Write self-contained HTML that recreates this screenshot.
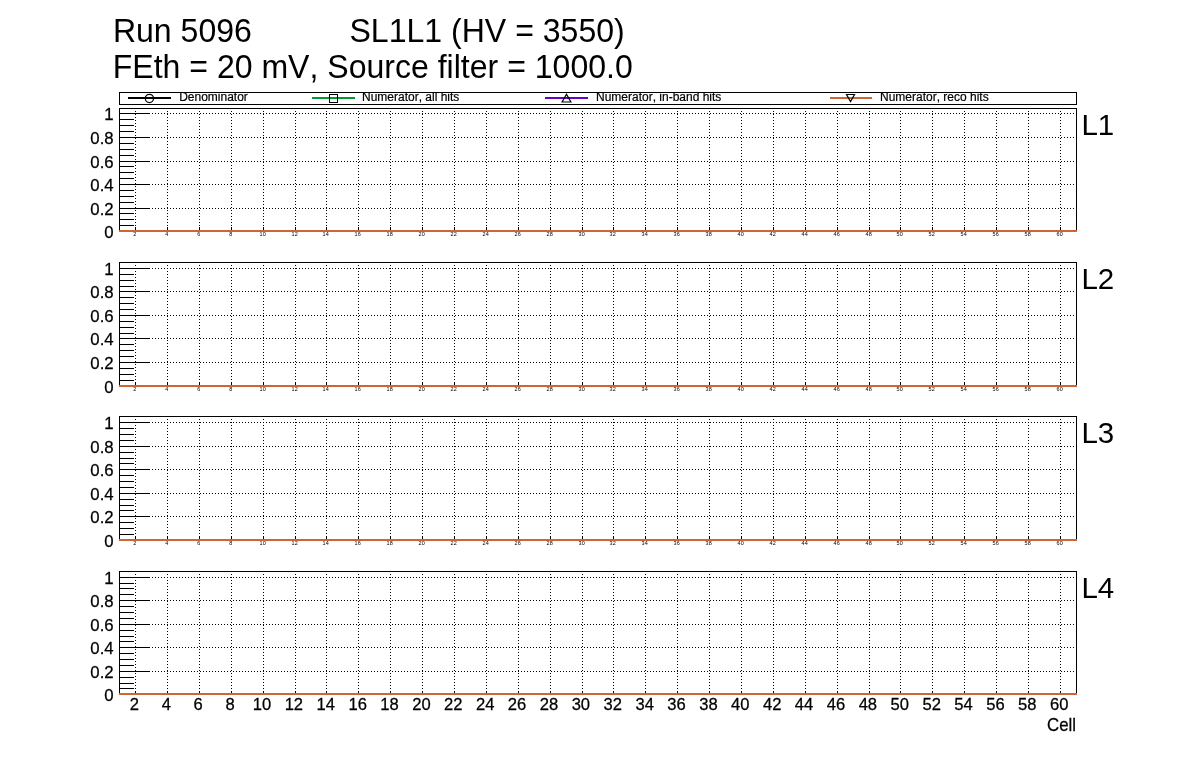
<!DOCTYPE html><html><head><meta charset="utf-8"><title>Run 5096</title><style>
html,body{margin:0;padding:0;background:#fff}body{width:1196px;height:772px;overflow:hidden;position:relative;font-family:"Liberation Sans",sans-serif;color:#000}
svg{position:absolute;left:0;top:0;display:block}
.c{shape-rendering:crispEdges}
text{font-family:"Liberation Sans",sans-serif;fill:#000;font-kerning:none}
.yl{font-size:16.8px;text-anchor:end;stroke:#000;stroke-width:.25px}.xl{font-size:16.6px;text-anchor:middle;stroke:#000;stroke-width:.25px}.ce{font-size:16.8px;text-anchor:end;stroke:#000;stroke-width:.25px}.sx{font-size:5.5px;text-anchor:middle}.lg{font-size:12px;stroke:#000;stroke-width:.2px}.ll{font-size:29.5px}.tt{font-size:32.05px}
</style></head><body>
<svg width="1196" height="772" viewBox="0 0 1196 772">
<rect width="1196" height="772" fill="#fff"/>
<text class="tt" transform="translate(112.90 42.30) scale(1 1.06)">Run 5096</text>
<text class="tt" transform="translate(349.50 42.30) scale(1 1.06)">SL1L1 (HV = 3550)</text>
<text class="tt" transform="translate(112.70 77.90) scale(1 1.06)">FEth = 20 mV, Source filter = 1000.0</text>
<g class="c">
<rect x="119" y="108" width="958" height="1"/>
<rect x="119" y="108" width="1" height="122"/>
<rect x="1076" y="108" width="1" height="122"/>
<line x1="135.5" y1="108" x2="135.5" y2="230" stroke="#000" stroke-dasharray="1 2"/>
<rect x="135" y="227" width="1" height="3"/>
<line x1="167.5" y1="108" x2="167.5" y2="230" stroke="#000" stroke-dasharray="1 2"/>
<rect x="167" y="227" width="1" height="3"/>
<line x1="199.5" y1="108" x2="199.5" y2="230" stroke="#000" stroke-dasharray="1 2"/>
<rect x="199" y="227" width="1" height="3"/>
<line x1="231.5" y1="108" x2="231.5" y2="230" stroke="#000" stroke-dasharray="1 2"/>
<rect x="231" y="227" width="1" height="3"/>
<line x1="263.5" y1="108" x2="263.5" y2="230" stroke="#000" stroke-dasharray="1 2"/>
<rect x="263" y="227" width="1" height="3"/>
<line x1="295.5" y1="108" x2="295.5" y2="230" stroke="#000" stroke-dasharray="1 2"/>
<rect x="295" y="227" width="1" height="3"/>
<line x1="326.5" y1="108" x2="326.5" y2="230" stroke="#000" stroke-dasharray="1 2"/>
<rect x="326" y="227" width="1" height="3"/>
<line x1="358.5" y1="108" x2="358.5" y2="230" stroke="#000" stroke-dasharray="1 2"/>
<rect x="358" y="227" width="1" height="3"/>
<line x1="390.5" y1="108" x2="390.5" y2="230" stroke="#000" stroke-dasharray="1 2"/>
<rect x="390" y="227" width="1" height="3"/>
<line x1="422.5" y1="108" x2="422.5" y2="230" stroke="#000" stroke-dasharray="1 2"/>
<rect x="422" y="227" width="1" height="3"/>
<line x1="454.5" y1="108" x2="454.5" y2="230" stroke="#000" stroke-dasharray="1 2"/>
<rect x="454" y="227" width="1" height="3"/>
<line x1="486.5" y1="108" x2="486.5" y2="230" stroke="#000" stroke-dasharray="1 2"/>
<rect x="486" y="227" width="1" height="3"/>
<line x1="518.5" y1="108" x2="518.5" y2="230" stroke="#000" stroke-dasharray="1 2"/>
<rect x="518" y="227" width="1" height="3"/>
<line x1="550.5" y1="108" x2="550.5" y2="230" stroke="#000" stroke-dasharray="1 2"/>
<rect x="550" y="227" width="1" height="3"/>
<line x1="582.5" y1="108" x2="582.5" y2="230" stroke="#000" stroke-dasharray="1 2"/>
<rect x="582" y="227" width="1" height="3"/>
<line x1="613.5" y1="108" x2="613.5" y2="230" stroke="#000" stroke-dasharray="1 2"/>
<rect x="613" y="227" width="1" height="3"/>
<line x1="645.5" y1="108" x2="645.5" y2="230" stroke="#000" stroke-dasharray="1 2"/>
<rect x="645" y="227" width="1" height="3"/>
<line x1="677.5" y1="108" x2="677.5" y2="230" stroke="#000" stroke-dasharray="1 2"/>
<rect x="677" y="227" width="1" height="3"/>
<line x1="709.5" y1="108" x2="709.5" y2="230" stroke="#000" stroke-dasharray="1 2"/>
<rect x="709" y="227" width="1" height="3"/>
<line x1="741.5" y1="108" x2="741.5" y2="230" stroke="#000" stroke-dasharray="1 2"/>
<rect x="741" y="227" width="1" height="3"/>
<line x1="773.5" y1="108" x2="773.5" y2="230" stroke="#000" stroke-dasharray="1 2"/>
<rect x="773" y="227" width="1" height="3"/>
<line x1="805.5" y1="108" x2="805.5" y2="230" stroke="#000" stroke-dasharray="1 2"/>
<rect x="805" y="227" width="1" height="3"/>
<line x1="837.5" y1="108" x2="837.5" y2="230" stroke="#000" stroke-dasharray="1 2"/>
<rect x="837" y="227" width="1" height="3"/>
<line x1="869.5" y1="108" x2="869.5" y2="230" stroke="#000" stroke-dasharray="1 2"/>
<rect x="869" y="227" width="1" height="3"/>
<line x1="900.5" y1="108" x2="900.5" y2="230" stroke="#000" stroke-dasharray="1 2"/>
<rect x="900" y="227" width="1" height="3"/>
<line x1="932.5" y1="108" x2="932.5" y2="230" stroke="#000" stroke-dasharray="1 2"/>
<rect x="932" y="227" width="1" height="3"/>
<line x1="964.5" y1="108" x2="964.5" y2="230" stroke="#000" stroke-dasharray="1 2"/>
<rect x="964" y="227" width="1" height="3"/>
<line x1="996.5" y1="108" x2="996.5" y2="230" stroke="#000" stroke-dasharray="1 2"/>
<rect x="996" y="227" width="1" height="3"/>
<line x1="1028.5" y1="108" x2="1028.5" y2="230" stroke="#000" stroke-dasharray="1 2"/>
<rect x="1028" y="227" width="1" height="3"/>
<line x1="1060.5" y1="108" x2="1060.5" y2="230" stroke="#000" stroke-dasharray="1 2"/>
<rect x="1060" y="227" width="1" height="3"/>
<line x1="152" y1="113.5" x2="1075" y2="113.5" stroke="#000" stroke-dasharray="1 2"/>
<rect x="119" y="113" width="31" height="1"/>
<rect x="119" y="119" width="15" height="1"/>
<rect x="119" y="125" width="15" height="1"/>
<rect x="119" y="131" width="15" height="1"/>
<line x1="152" y1="137.5" x2="1075" y2="137.5" stroke="#000" stroke-dasharray="1 2"/>
<rect x="119" y="137" width="31" height="1"/>
<rect x="119" y="143" width="15" height="1"/>
<rect x="119" y="149" width="15" height="1"/>
<rect x="119" y="155" width="15" height="1"/>
<line x1="152" y1="161.5" x2="1075" y2="161.5" stroke="#000" stroke-dasharray="1 2"/>
<rect x="119" y="161" width="31" height="1"/>
<rect x="119" y="166" width="15" height="1"/>
<rect x="119" y="172" width="15" height="1"/>
<rect x="119" y="178" width="15" height="1"/>
<line x1="152" y1="184.5" x2="1075" y2="184.5" stroke="#000" stroke-dasharray="1 2"/>
<rect x="119" y="184" width="31" height="1"/>
<rect x="119" y="190" width="15" height="1"/>
<rect x="119" y="196" width="15" height="1"/>
<rect x="119" y="202" width="15" height="1"/>
<line x1="152" y1="208.5" x2="1075" y2="208.5" stroke="#000" stroke-dasharray="1 2"/>
<rect x="119" y="208" width="31" height="1"/>
<rect x="119" y="213" width="15" height="1"/>
<rect x="119" y="219" width="15" height="1"/>
<rect x="119" y="225" width="15" height="1"/>
<rect x="119" y="230" width="958" height="2" fill="#cc6633"/>
</g>
<text class="yl" transform="translate(113.70 238.40) scale(1 1.035)">0</text>
<text class="yl" transform="translate(113.70 215.40) scale(1 1.035)">0.2</text>
<text class="yl" transform="translate(113.70 191.40) scale(1 1.035)">0.4</text>
<text class="yl" transform="translate(113.70 168.40) scale(1 1.035)">0.6</text>
<text class="yl" transform="translate(113.70 144.40) scale(1 1.035)">0.8</text>
<text class="yl" transform="translate(113.70 120.40) scale(1 1.035)">1</text>
<text class="sx" transform="translate(134.65 236.10) scale(1 1.05)">2</text>
<text class="sx" transform="translate(166.65 236.10) scale(1 1.05)">4</text>
<text class="sx" transform="translate(198.65 236.10) scale(1 1.05)">6</text>
<text class="sx" transform="translate(230.65 236.10) scale(1 1.05)">8</text>
<text class="sx" transform="translate(262.65 236.10) scale(1 1.05)">10</text>
<text class="sx" transform="translate(294.65 236.10) scale(1 1.05)">12</text>
<text class="sx" transform="translate(325.65 236.10) scale(1 1.05)">14</text>
<text class="sx" transform="translate(357.65 236.10) scale(1 1.05)">16</text>
<text class="sx" transform="translate(389.65 236.10) scale(1 1.05)">18</text>
<text class="sx" transform="translate(421.65 236.10) scale(1 1.05)">20</text>
<text class="sx" transform="translate(453.65 236.10) scale(1 1.05)">22</text>
<text class="sx" transform="translate(485.65 236.10) scale(1 1.05)">24</text>
<text class="sx" transform="translate(517.65 236.10) scale(1 1.05)">26</text>
<text class="sx" transform="translate(549.65 236.10) scale(1 1.05)">28</text>
<text class="sx" transform="translate(581.65 236.10) scale(1 1.05)">30</text>
<text class="sx" transform="translate(612.65 236.10) scale(1 1.05)">32</text>
<text class="sx" transform="translate(644.65 236.10) scale(1 1.05)">34</text>
<text class="sx" transform="translate(676.65 236.10) scale(1 1.05)">36</text>
<text class="sx" transform="translate(708.65 236.10) scale(1 1.05)">38</text>
<text class="sx" transform="translate(740.65 236.10) scale(1 1.05)">40</text>
<text class="sx" transform="translate(772.65 236.10) scale(1 1.05)">42</text>
<text class="sx" transform="translate(804.65 236.10) scale(1 1.05)">44</text>
<text class="sx" transform="translate(836.65 236.10) scale(1 1.05)">46</text>
<text class="sx" transform="translate(868.65 236.10) scale(1 1.05)">48</text>
<text class="sx" transform="translate(899.65 236.10) scale(1 1.05)">50</text>
<text class="sx" transform="translate(931.65 236.10) scale(1 1.05)">52</text>
<text class="sx" transform="translate(963.65 236.10) scale(1 1.05)">54</text>
<text class="sx" transform="translate(995.65 236.10) scale(1 1.05)">56</text>
<text class="sx" transform="translate(1027.65 236.10) scale(1 1.05)">58</text>
<text class="sx" transform="translate(1059.65 236.10) scale(1 1.05)">60</text>
<text class="ll" transform="translate(1081.40 134.70) scale(1 1.03)">L1</text>
<g class="c">
<rect x="119" y="262" width="958" height="1"/>
<rect x="119" y="262" width="1" height="123"/>
<rect x="1076" y="262" width="1" height="123"/>
<line x1="135.5" y1="262" x2="135.5" y2="385" stroke="#000" stroke-dasharray="1 2"/>
<rect x="135" y="382" width="1" height="3"/>
<line x1="167.5" y1="262" x2="167.5" y2="385" stroke="#000" stroke-dasharray="1 2"/>
<rect x="167" y="382" width="1" height="3"/>
<line x1="199.5" y1="262" x2="199.5" y2="385" stroke="#000" stroke-dasharray="1 2"/>
<rect x="199" y="382" width="1" height="3"/>
<line x1="231.5" y1="262" x2="231.5" y2="385" stroke="#000" stroke-dasharray="1 2"/>
<rect x="231" y="382" width="1" height="3"/>
<line x1="263.5" y1="262" x2="263.5" y2="385" stroke="#000" stroke-dasharray="1 2"/>
<rect x="263" y="382" width="1" height="3"/>
<line x1="295.5" y1="262" x2="295.5" y2="385" stroke="#000" stroke-dasharray="1 2"/>
<rect x="295" y="382" width="1" height="3"/>
<line x1="326.5" y1="262" x2="326.5" y2="385" stroke="#000" stroke-dasharray="1 2"/>
<rect x="326" y="382" width="1" height="3"/>
<line x1="358.5" y1="262" x2="358.5" y2="385" stroke="#000" stroke-dasharray="1 2"/>
<rect x="358" y="382" width="1" height="3"/>
<line x1="390.5" y1="262" x2="390.5" y2="385" stroke="#000" stroke-dasharray="1 2"/>
<rect x="390" y="382" width="1" height="3"/>
<line x1="422.5" y1="262" x2="422.5" y2="385" stroke="#000" stroke-dasharray="1 2"/>
<rect x="422" y="382" width="1" height="3"/>
<line x1="454.5" y1="262" x2="454.5" y2="385" stroke="#000" stroke-dasharray="1 2"/>
<rect x="454" y="382" width="1" height="3"/>
<line x1="486.5" y1="262" x2="486.5" y2="385" stroke="#000" stroke-dasharray="1 2"/>
<rect x="486" y="382" width="1" height="3"/>
<line x1="518.5" y1="262" x2="518.5" y2="385" stroke="#000" stroke-dasharray="1 2"/>
<rect x="518" y="382" width="1" height="3"/>
<line x1="550.5" y1="262" x2="550.5" y2="385" stroke="#000" stroke-dasharray="1 2"/>
<rect x="550" y="382" width="1" height="3"/>
<line x1="582.5" y1="262" x2="582.5" y2="385" stroke="#000" stroke-dasharray="1 2"/>
<rect x="582" y="382" width="1" height="3"/>
<line x1="613.5" y1="262" x2="613.5" y2="385" stroke="#000" stroke-dasharray="1 2"/>
<rect x="613" y="382" width="1" height="3"/>
<line x1="645.5" y1="262" x2="645.5" y2="385" stroke="#000" stroke-dasharray="1 2"/>
<rect x="645" y="382" width="1" height="3"/>
<line x1="677.5" y1="262" x2="677.5" y2="385" stroke="#000" stroke-dasharray="1 2"/>
<rect x="677" y="382" width="1" height="3"/>
<line x1="709.5" y1="262" x2="709.5" y2="385" stroke="#000" stroke-dasharray="1 2"/>
<rect x="709" y="382" width="1" height="3"/>
<line x1="741.5" y1="262" x2="741.5" y2="385" stroke="#000" stroke-dasharray="1 2"/>
<rect x="741" y="382" width="1" height="3"/>
<line x1="773.5" y1="262" x2="773.5" y2="385" stroke="#000" stroke-dasharray="1 2"/>
<rect x="773" y="382" width="1" height="3"/>
<line x1="805.5" y1="262" x2="805.5" y2="385" stroke="#000" stroke-dasharray="1 2"/>
<rect x="805" y="382" width="1" height="3"/>
<line x1="837.5" y1="262" x2="837.5" y2="385" stroke="#000" stroke-dasharray="1 2"/>
<rect x="837" y="382" width="1" height="3"/>
<line x1="869.5" y1="262" x2="869.5" y2="385" stroke="#000" stroke-dasharray="1 2"/>
<rect x="869" y="382" width="1" height="3"/>
<line x1="900.5" y1="262" x2="900.5" y2="385" stroke="#000" stroke-dasharray="1 2"/>
<rect x="900" y="382" width="1" height="3"/>
<line x1="932.5" y1="262" x2="932.5" y2="385" stroke="#000" stroke-dasharray="1 2"/>
<rect x="932" y="382" width="1" height="3"/>
<line x1="964.5" y1="262" x2="964.5" y2="385" stroke="#000" stroke-dasharray="1 2"/>
<rect x="964" y="382" width="1" height="3"/>
<line x1="996.5" y1="262" x2="996.5" y2="385" stroke="#000" stroke-dasharray="1 2"/>
<rect x="996" y="382" width="1" height="3"/>
<line x1="1028.5" y1="262" x2="1028.5" y2="385" stroke="#000" stroke-dasharray="1 2"/>
<rect x="1028" y="382" width="1" height="3"/>
<line x1="1060.5" y1="262" x2="1060.5" y2="385" stroke="#000" stroke-dasharray="1 2"/>
<rect x="1060" y="382" width="1" height="3"/>
<line x1="152" y1="268.5" x2="1075" y2="268.5" stroke="#000" stroke-dasharray="1 2"/>
<rect x="119" y="268" width="31" height="1"/>
<rect x="119" y="274" width="15" height="1"/>
<rect x="119" y="280" width="15" height="1"/>
<rect x="119" y="286" width="15" height="1"/>
<line x1="152" y1="291.5" x2="1075" y2="291.5" stroke="#000" stroke-dasharray="1 2"/>
<rect x="119" y="291" width="31" height="1"/>
<rect x="119" y="297" width="15" height="1"/>
<rect x="119" y="303" width="15" height="1"/>
<rect x="119" y="309" width="15" height="1"/>
<line x1="152" y1="315.5" x2="1075" y2="315.5" stroke="#000" stroke-dasharray="1 2"/>
<rect x="119" y="315" width="31" height="1"/>
<rect x="119" y="321" width="15" height="1"/>
<rect x="119" y="327" width="15" height="1"/>
<rect x="119" y="333" width="15" height="1"/>
<line x1="152" y1="338.5" x2="1075" y2="338.5" stroke="#000" stroke-dasharray="1 2"/>
<rect x="119" y="338" width="31" height="1"/>
<rect x="119" y="344" width="15" height="1"/>
<rect x="119" y="350" width="15" height="1"/>
<rect x="119" y="356" width="15" height="1"/>
<line x1="152" y1="362.5" x2="1075" y2="362.5" stroke="#000" stroke-dasharray="1 2"/>
<rect x="119" y="362" width="31" height="1"/>
<rect x="119" y="368" width="15" height="1"/>
<rect x="119" y="374" width="15" height="1"/>
<rect x="119" y="380" width="15" height="1"/>
<rect x="119" y="385" width="958" height="2" fill="#cc6633"/>
</g>
<text class="yl" transform="translate(113.70 393.40) scale(1 1.035)">0</text>
<text class="yl" transform="translate(113.70 369.40) scale(1 1.035)">0.2</text>
<text class="yl" transform="translate(113.70 345.40) scale(1 1.035)">0.4</text>
<text class="yl" transform="translate(113.70 322.40) scale(1 1.035)">0.6</text>
<text class="yl" transform="translate(113.70 298.40) scale(1 1.035)">0.8</text>
<text class="yl" transform="translate(113.70 275.40) scale(1 1.035)">1</text>
<text class="sx" transform="translate(134.65 391.10) scale(1 1.05)">2</text>
<text class="sx" transform="translate(166.65 391.10) scale(1 1.05)">4</text>
<text class="sx" transform="translate(198.65 391.10) scale(1 1.05)">6</text>
<text class="sx" transform="translate(230.65 391.10) scale(1 1.05)">8</text>
<text class="sx" transform="translate(262.65 391.10) scale(1 1.05)">10</text>
<text class="sx" transform="translate(294.65 391.10) scale(1 1.05)">12</text>
<text class="sx" transform="translate(325.65 391.10) scale(1 1.05)">14</text>
<text class="sx" transform="translate(357.65 391.10) scale(1 1.05)">16</text>
<text class="sx" transform="translate(389.65 391.10) scale(1 1.05)">18</text>
<text class="sx" transform="translate(421.65 391.10) scale(1 1.05)">20</text>
<text class="sx" transform="translate(453.65 391.10) scale(1 1.05)">22</text>
<text class="sx" transform="translate(485.65 391.10) scale(1 1.05)">24</text>
<text class="sx" transform="translate(517.65 391.10) scale(1 1.05)">26</text>
<text class="sx" transform="translate(549.65 391.10) scale(1 1.05)">28</text>
<text class="sx" transform="translate(581.65 391.10) scale(1 1.05)">30</text>
<text class="sx" transform="translate(612.65 391.10) scale(1 1.05)">32</text>
<text class="sx" transform="translate(644.65 391.10) scale(1 1.05)">34</text>
<text class="sx" transform="translate(676.65 391.10) scale(1 1.05)">36</text>
<text class="sx" transform="translate(708.65 391.10) scale(1 1.05)">38</text>
<text class="sx" transform="translate(740.65 391.10) scale(1 1.05)">40</text>
<text class="sx" transform="translate(772.65 391.10) scale(1 1.05)">42</text>
<text class="sx" transform="translate(804.65 391.10) scale(1 1.05)">44</text>
<text class="sx" transform="translate(836.65 391.10) scale(1 1.05)">46</text>
<text class="sx" transform="translate(868.65 391.10) scale(1 1.05)">48</text>
<text class="sx" transform="translate(899.65 391.10) scale(1 1.05)">50</text>
<text class="sx" transform="translate(931.65 391.10) scale(1 1.05)">52</text>
<text class="sx" transform="translate(963.65 391.10) scale(1 1.05)">54</text>
<text class="sx" transform="translate(995.65 391.10) scale(1 1.05)">56</text>
<text class="sx" transform="translate(1027.65 391.10) scale(1 1.05)">58</text>
<text class="sx" transform="translate(1059.65 391.10) scale(1 1.05)">60</text>
<text class="ll" transform="translate(1081.40 288.70) scale(1 1.03)">L2</text>
<g class="c">
<rect x="119" y="416" width="958" height="1"/>
<rect x="119" y="416" width="1" height="123"/>
<rect x="1076" y="416" width="1" height="123"/>
<line x1="135.5" y1="416" x2="135.5" y2="539" stroke="#000" stroke-dasharray="1 2"/>
<rect x="135" y="536" width="1" height="3"/>
<line x1="167.5" y1="416" x2="167.5" y2="539" stroke="#000" stroke-dasharray="1 2"/>
<rect x="167" y="536" width="1" height="3"/>
<line x1="199.5" y1="416" x2="199.5" y2="539" stroke="#000" stroke-dasharray="1 2"/>
<rect x="199" y="536" width="1" height="3"/>
<line x1="231.5" y1="416" x2="231.5" y2="539" stroke="#000" stroke-dasharray="1 2"/>
<rect x="231" y="536" width="1" height="3"/>
<line x1="263.5" y1="416" x2="263.5" y2="539" stroke="#000" stroke-dasharray="1 2"/>
<rect x="263" y="536" width="1" height="3"/>
<line x1="295.5" y1="416" x2="295.5" y2="539" stroke="#000" stroke-dasharray="1 2"/>
<rect x="295" y="536" width="1" height="3"/>
<line x1="326.5" y1="416" x2="326.5" y2="539" stroke="#000" stroke-dasharray="1 2"/>
<rect x="326" y="536" width="1" height="3"/>
<line x1="358.5" y1="416" x2="358.5" y2="539" stroke="#000" stroke-dasharray="1 2"/>
<rect x="358" y="536" width="1" height="3"/>
<line x1="390.5" y1="416" x2="390.5" y2="539" stroke="#000" stroke-dasharray="1 2"/>
<rect x="390" y="536" width="1" height="3"/>
<line x1="422.5" y1="416" x2="422.5" y2="539" stroke="#000" stroke-dasharray="1 2"/>
<rect x="422" y="536" width="1" height="3"/>
<line x1="454.5" y1="416" x2="454.5" y2="539" stroke="#000" stroke-dasharray="1 2"/>
<rect x="454" y="536" width="1" height="3"/>
<line x1="486.5" y1="416" x2="486.5" y2="539" stroke="#000" stroke-dasharray="1 2"/>
<rect x="486" y="536" width="1" height="3"/>
<line x1="518.5" y1="416" x2="518.5" y2="539" stroke="#000" stroke-dasharray="1 2"/>
<rect x="518" y="536" width="1" height="3"/>
<line x1="550.5" y1="416" x2="550.5" y2="539" stroke="#000" stroke-dasharray="1 2"/>
<rect x="550" y="536" width="1" height="3"/>
<line x1="582.5" y1="416" x2="582.5" y2="539" stroke="#000" stroke-dasharray="1 2"/>
<rect x="582" y="536" width="1" height="3"/>
<line x1="613.5" y1="416" x2="613.5" y2="539" stroke="#000" stroke-dasharray="1 2"/>
<rect x="613" y="536" width="1" height="3"/>
<line x1="645.5" y1="416" x2="645.5" y2="539" stroke="#000" stroke-dasharray="1 2"/>
<rect x="645" y="536" width="1" height="3"/>
<line x1="677.5" y1="416" x2="677.5" y2="539" stroke="#000" stroke-dasharray="1 2"/>
<rect x="677" y="536" width="1" height="3"/>
<line x1="709.5" y1="416" x2="709.5" y2="539" stroke="#000" stroke-dasharray="1 2"/>
<rect x="709" y="536" width="1" height="3"/>
<line x1="741.5" y1="416" x2="741.5" y2="539" stroke="#000" stroke-dasharray="1 2"/>
<rect x="741" y="536" width="1" height="3"/>
<line x1="773.5" y1="416" x2="773.5" y2="539" stroke="#000" stroke-dasharray="1 2"/>
<rect x="773" y="536" width="1" height="3"/>
<line x1="805.5" y1="416" x2="805.5" y2="539" stroke="#000" stroke-dasharray="1 2"/>
<rect x="805" y="536" width="1" height="3"/>
<line x1="837.5" y1="416" x2="837.5" y2="539" stroke="#000" stroke-dasharray="1 2"/>
<rect x="837" y="536" width="1" height="3"/>
<line x1="869.5" y1="416" x2="869.5" y2="539" stroke="#000" stroke-dasharray="1 2"/>
<rect x="869" y="536" width="1" height="3"/>
<line x1="900.5" y1="416" x2="900.5" y2="539" stroke="#000" stroke-dasharray="1 2"/>
<rect x="900" y="536" width="1" height="3"/>
<line x1="932.5" y1="416" x2="932.5" y2="539" stroke="#000" stroke-dasharray="1 2"/>
<rect x="932" y="536" width="1" height="3"/>
<line x1="964.5" y1="416" x2="964.5" y2="539" stroke="#000" stroke-dasharray="1 2"/>
<rect x="964" y="536" width="1" height="3"/>
<line x1="996.5" y1="416" x2="996.5" y2="539" stroke="#000" stroke-dasharray="1 2"/>
<rect x="996" y="536" width="1" height="3"/>
<line x1="1028.5" y1="416" x2="1028.5" y2="539" stroke="#000" stroke-dasharray="1 2"/>
<rect x="1028" y="536" width="1" height="3"/>
<line x1="1060.5" y1="416" x2="1060.5" y2="539" stroke="#000" stroke-dasharray="1 2"/>
<rect x="1060" y="536" width="1" height="3"/>
<line x1="152" y1="422.5" x2="1075" y2="422.5" stroke="#000" stroke-dasharray="1 2"/>
<rect x="119" y="422" width="31" height="1"/>
<rect x="119" y="428" width="15" height="1"/>
<rect x="119" y="434" width="15" height="1"/>
<rect x="119" y="440" width="15" height="1"/>
<line x1="152" y1="446.5" x2="1075" y2="446.5" stroke="#000" stroke-dasharray="1 2"/>
<rect x="119" y="446" width="31" height="1"/>
<rect x="119" y="452" width="15" height="1"/>
<rect x="119" y="458" width="15" height="1"/>
<rect x="119" y="463" width="15" height="1"/>
<line x1="152" y1="469.5" x2="1075" y2="469.5" stroke="#000" stroke-dasharray="1 2"/>
<rect x="119" y="469" width="31" height="1"/>
<rect x="119" y="475" width="15" height="1"/>
<rect x="119" y="481" width="15" height="1"/>
<rect x="119" y="487" width="15" height="1"/>
<line x1="152" y1="493.5" x2="1075" y2="493.5" stroke="#000" stroke-dasharray="1 2"/>
<rect x="119" y="493" width="31" height="1"/>
<rect x="119" y="499" width="15" height="1"/>
<rect x="119" y="505" width="15" height="1"/>
<rect x="119" y="510" width="15" height="1"/>
<line x1="152" y1="516.5" x2="1075" y2="516.5" stroke="#000" stroke-dasharray="1 2"/>
<rect x="119" y="516" width="31" height="1"/>
<rect x="119" y="522" width="15" height="1"/>
<rect x="119" y="528" width="15" height="1"/>
<rect x="119" y="534" width="15" height="1"/>
<rect x="119" y="539" width="958" height="2" fill="#cc6633"/>
</g>
<text class="yl" transform="translate(113.70 547.40) scale(1 1.035)">0</text>
<text class="yl" transform="translate(113.70 523.40) scale(1 1.035)">0.2</text>
<text class="yl" transform="translate(113.70 500.40) scale(1 1.035)">0.4</text>
<text class="yl" transform="translate(113.70 476.40) scale(1 1.035)">0.6</text>
<text class="yl" transform="translate(113.70 453.40) scale(1 1.035)">0.8</text>
<text class="yl" transform="translate(113.70 429.40) scale(1 1.035)">1</text>
<text class="sx" transform="translate(134.65 545.10) scale(1 1.05)">2</text>
<text class="sx" transform="translate(166.65 545.10) scale(1 1.05)">4</text>
<text class="sx" transform="translate(198.65 545.10) scale(1 1.05)">6</text>
<text class="sx" transform="translate(230.65 545.10) scale(1 1.05)">8</text>
<text class="sx" transform="translate(262.65 545.10) scale(1 1.05)">10</text>
<text class="sx" transform="translate(294.65 545.10) scale(1 1.05)">12</text>
<text class="sx" transform="translate(325.65 545.10) scale(1 1.05)">14</text>
<text class="sx" transform="translate(357.65 545.10) scale(1 1.05)">16</text>
<text class="sx" transform="translate(389.65 545.10) scale(1 1.05)">18</text>
<text class="sx" transform="translate(421.65 545.10) scale(1 1.05)">20</text>
<text class="sx" transform="translate(453.65 545.10) scale(1 1.05)">22</text>
<text class="sx" transform="translate(485.65 545.10) scale(1 1.05)">24</text>
<text class="sx" transform="translate(517.65 545.10) scale(1 1.05)">26</text>
<text class="sx" transform="translate(549.65 545.10) scale(1 1.05)">28</text>
<text class="sx" transform="translate(581.65 545.10) scale(1 1.05)">30</text>
<text class="sx" transform="translate(612.65 545.10) scale(1 1.05)">32</text>
<text class="sx" transform="translate(644.65 545.10) scale(1 1.05)">34</text>
<text class="sx" transform="translate(676.65 545.10) scale(1 1.05)">36</text>
<text class="sx" transform="translate(708.65 545.10) scale(1 1.05)">38</text>
<text class="sx" transform="translate(740.65 545.10) scale(1 1.05)">40</text>
<text class="sx" transform="translate(772.65 545.10) scale(1 1.05)">42</text>
<text class="sx" transform="translate(804.65 545.10) scale(1 1.05)">44</text>
<text class="sx" transform="translate(836.65 545.10) scale(1 1.05)">46</text>
<text class="sx" transform="translate(868.65 545.10) scale(1 1.05)">48</text>
<text class="sx" transform="translate(899.65 545.10) scale(1 1.05)">50</text>
<text class="sx" transform="translate(931.65 545.10) scale(1 1.05)">52</text>
<text class="sx" transform="translate(963.65 545.10) scale(1 1.05)">54</text>
<text class="sx" transform="translate(995.65 545.10) scale(1 1.05)">56</text>
<text class="sx" transform="translate(1027.65 545.10) scale(1 1.05)">58</text>
<text class="sx" transform="translate(1059.65 545.10) scale(1 1.05)">60</text>
<text class="ll" transform="translate(1081.40 442.70) scale(1 1.03)">L3</text>
<g class="c">
<rect x="119" y="571" width="958" height="1"/>
<rect x="119" y="571" width="1" height="122"/>
<rect x="1076" y="571" width="1" height="122"/>
<line x1="135.5" y1="571" x2="135.5" y2="693" stroke="#000" stroke-dasharray="1 2"/>
<rect x="135" y="691" width="1" height="2"/>
<line x1="167.5" y1="571" x2="167.5" y2="693" stroke="#000" stroke-dasharray="1 2"/>
<rect x="167" y="691" width="1" height="2"/>
<line x1="199.5" y1="571" x2="199.5" y2="693" stroke="#000" stroke-dasharray="1 2"/>
<rect x="199" y="691" width="1" height="2"/>
<line x1="231.5" y1="571" x2="231.5" y2="693" stroke="#000" stroke-dasharray="1 2"/>
<rect x="231" y="691" width="1" height="2"/>
<line x1="263.5" y1="571" x2="263.5" y2="693" stroke="#000" stroke-dasharray="1 2"/>
<rect x="263" y="691" width="1" height="2"/>
<line x1="295.5" y1="571" x2="295.5" y2="693" stroke="#000" stroke-dasharray="1 2"/>
<rect x="295" y="691" width="1" height="2"/>
<line x1="326.5" y1="571" x2="326.5" y2="693" stroke="#000" stroke-dasharray="1 2"/>
<rect x="326" y="691" width="1" height="2"/>
<line x1="358.5" y1="571" x2="358.5" y2="693" stroke="#000" stroke-dasharray="1 2"/>
<rect x="358" y="691" width="1" height="2"/>
<line x1="390.5" y1="571" x2="390.5" y2="693" stroke="#000" stroke-dasharray="1 2"/>
<rect x="390" y="691" width="1" height="2"/>
<line x1="422.5" y1="571" x2="422.5" y2="693" stroke="#000" stroke-dasharray="1 2"/>
<rect x="422" y="691" width="1" height="2"/>
<line x1="454.5" y1="571" x2="454.5" y2="693" stroke="#000" stroke-dasharray="1 2"/>
<rect x="454" y="691" width="1" height="2"/>
<line x1="486.5" y1="571" x2="486.5" y2="693" stroke="#000" stroke-dasharray="1 2"/>
<rect x="486" y="691" width="1" height="2"/>
<line x1="518.5" y1="571" x2="518.5" y2="693" stroke="#000" stroke-dasharray="1 2"/>
<rect x="518" y="691" width="1" height="2"/>
<line x1="550.5" y1="571" x2="550.5" y2="693" stroke="#000" stroke-dasharray="1 2"/>
<rect x="550" y="691" width="1" height="2"/>
<line x1="582.5" y1="571" x2="582.5" y2="693" stroke="#000" stroke-dasharray="1 2"/>
<rect x="582" y="691" width="1" height="2"/>
<line x1="613.5" y1="571" x2="613.5" y2="693" stroke="#000" stroke-dasharray="1 2"/>
<rect x="613" y="691" width="1" height="2"/>
<line x1="645.5" y1="571" x2="645.5" y2="693" stroke="#000" stroke-dasharray="1 2"/>
<rect x="645" y="691" width="1" height="2"/>
<line x1="677.5" y1="571" x2="677.5" y2="693" stroke="#000" stroke-dasharray="1 2"/>
<rect x="677" y="691" width="1" height="2"/>
<line x1="709.5" y1="571" x2="709.5" y2="693" stroke="#000" stroke-dasharray="1 2"/>
<rect x="709" y="691" width="1" height="2"/>
<line x1="741.5" y1="571" x2="741.5" y2="693" stroke="#000" stroke-dasharray="1 2"/>
<rect x="741" y="691" width="1" height="2"/>
<line x1="773.5" y1="571" x2="773.5" y2="693" stroke="#000" stroke-dasharray="1 2"/>
<rect x="773" y="691" width="1" height="2"/>
<line x1="805.5" y1="571" x2="805.5" y2="693" stroke="#000" stroke-dasharray="1 2"/>
<rect x="805" y="691" width="1" height="2"/>
<line x1="837.5" y1="571" x2="837.5" y2="693" stroke="#000" stroke-dasharray="1 2"/>
<rect x="837" y="691" width="1" height="2"/>
<line x1="869.5" y1="571" x2="869.5" y2="693" stroke="#000" stroke-dasharray="1 2"/>
<rect x="869" y="691" width="1" height="2"/>
<line x1="900.5" y1="571" x2="900.5" y2="693" stroke="#000" stroke-dasharray="1 2"/>
<rect x="900" y="691" width="1" height="2"/>
<line x1="932.5" y1="571" x2="932.5" y2="693" stroke="#000" stroke-dasharray="1 2"/>
<rect x="932" y="691" width="1" height="2"/>
<line x1="964.5" y1="571" x2="964.5" y2="693" stroke="#000" stroke-dasharray="1 2"/>
<rect x="964" y="691" width="1" height="2"/>
<line x1="996.5" y1="571" x2="996.5" y2="693" stroke="#000" stroke-dasharray="1 2"/>
<rect x="996" y="691" width="1" height="2"/>
<line x1="1028.5" y1="571" x2="1028.5" y2="693" stroke="#000" stroke-dasharray="1 2"/>
<rect x="1028" y="691" width="1" height="2"/>
<line x1="1060.5" y1="571" x2="1060.5" y2="693" stroke="#000" stroke-dasharray="1 2"/>
<rect x="1060" y="691" width="1" height="2"/>
<line x1="152" y1="577.5" x2="1075" y2="577.5" stroke="#000" stroke-dasharray="1 2"/>
<rect x="119" y="577" width="31" height="1"/>
<rect x="119" y="583" width="15" height="1"/>
<rect x="119" y="588" width="15" height="1"/>
<rect x="119" y="594" width="15" height="1"/>
<line x1="152" y1="600.5" x2="1075" y2="600.5" stroke="#000" stroke-dasharray="1 2"/>
<rect x="119" y="600" width="31" height="1"/>
<rect x="119" y="606" width="15" height="1"/>
<rect x="119" y="612" width="15" height="1"/>
<rect x="119" y="618" width="15" height="1"/>
<line x1="152" y1="624.5" x2="1075" y2="624.5" stroke="#000" stroke-dasharray="1 2"/>
<rect x="119" y="624" width="31" height="1"/>
<rect x="119" y="630" width="15" height="1"/>
<rect x="119" y="636" width="15" height="1"/>
<rect x="119" y="641" width="15" height="1"/>
<line x1="152" y1="647.5" x2="1075" y2="647.5" stroke="#000" stroke-dasharray="1 2"/>
<rect x="119" y="647" width="31" height="1"/>
<rect x="119" y="653" width="15" height="1"/>
<rect x="119" y="659" width="15" height="1"/>
<rect x="119" y="665" width="15" height="1"/>
<line x1="152" y1="671.5" x2="1075" y2="671.5" stroke="#000" stroke-dasharray="1 2"/>
<rect x="119" y="671" width="31" height="1"/>
<rect x="119" y="677" width="15" height="1"/>
<rect x="119" y="683" width="15" height="1"/>
<rect x="119" y="688" width="15" height="1"/>
<rect x="119" y="693" width="958" height="2" fill="#cc6633"/>
</g>
<text class="yl" transform="translate(113.70 701.40) scale(1 1.035)">0</text>
<text class="yl" transform="translate(113.70 678.40) scale(1 1.035)">0.2</text>
<text class="yl" transform="translate(113.70 654.40) scale(1 1.035)">0.4</text>
<text class="yl" transform="translate(113.70 631.40) scale(1 1.035)">0.6</text>
<text class="yl" transform="translate(113.70 607.40) scale(1 1.035)">0.8</text>
<text class="yl" transform="translate(113.70 584.40) scale(1 1.035)">1</text>
<text class="xl" transform="translate(134.41 710.30) scale(1 1.04)">2</text>
<text class="xl" transform="translate(166.30 710.30) scale(1 1.04)">4</text>
<text class="xl" transform="translate(198.19 710.30) scale(1 1.04)">6</text>
<text class="xl" transform="translate(230.08 710.30) scale(1 1.04)">8</text>
<text class="xl" transform="translate(261.97 710.30) scale(1 1.04)">10</text>
<text class="xl" transform="translate(293.86 710.30) scale(1 1.04)">12</text>
<text class="xl" transform="translate(325.75 710.30) scale(1 1.04)">14</text>
<text class="xl" transform="translate(357.63 710.30) scale(1 1.04)">16</text>
<text class="xl" transform="translate(389.52 710.30) scale(1 1.04)">18</text>
<text class="xl" transform="translate(421.41 710.30) scale(1 1.04)">20</text>
<text class="xl" transform="translate(453.30 710.30) scale(1 1.04)">22</text>
<text class="xl" transform="translate(485.19 710.30) scale(1 1.04)">24</text>
<text class="xl" transform="translate(517.08 710.30) scale(1 1.04)">26</text>
<text class="xl" transform="translate(548.97 710.30) scale(1 1.04)">28</text>
<text class="xl" transform="translate(580.85 710.30) scale(1 1.04)">30</text>
<text class="xl" transform="translate(612.74 710.30) scale(1 1.04)">32</text>
<text class="xl" transform="translate(644.63 710.30) scale(1 1.04)">34</text>
<text class="xl" transform="translate(676.52 710.30) scale(1 1.04)">36</text>
<text class="xl" transform="translate(708.41 710.30) scale(1 1.04)">38</text>
<text class="xl" transform="translate(740.30 710.30) scale(1 1.04)">40</text>
<text class="xl" transform="translate(772.19 710.30) scale(1 1.04)">42</text>
<text class="xl" transform="translate(804.07 710.30) scale(1 1.04)">44</text>
<text class="xl" transform="translate(835.96 710.30) scale(1 1.04)">46</text>
<text class="xl" transform="translate(867.85 710.30) scale(1 1.04)">48</text>
<text class="xl" transform="translate(899.74 710.30) scale(1 1.04)">50</text>
<text class="xl" transform="translate(931.63 710.30) scale(1 1.04)">52</text>
<text class="xl" transform="translate(963.52 710.30) scale(1 1.04)">54</text>
<text class="xl" transform="translate(995.41 710.30) scale(1 1.04)">56</text>
<text class="xl" transform="translate(1027.30 710.30) scale(1 1.04)">58</text>
<text class="xl" transform="translate(1059.18 710.30) scale(1 1.04)">60</text>
<text class="ll" transform="translate(1081.40 597.70) scale(1 1.03)">L4</text>
<text class="ce" transform="translate(1076.00 731.40) scale(1 1.04)">Cell</text>
<rect class="c" x="119.5" y="92.5" width="957" height="12" fill="#fff" stroke="#000"/>
<rect class="c" x="128" y="97" width="43" height="2" fill="#000"/>
<circle cx="149.4" cy="98.4" r="4.1" fill="none" stroke="#000" stroke-width="1.25"/>
<text class="lg" transform="translate(179.20 100.80) scale(1 1.04)">Denominator</text>
<rect class="c" x="312" y="97" width="43" height="2" fill="#009933"/>
<rect class="c" x="329.5" y="94.5" width="8" height="8" fill="none" stroke="#000"/>
<text class="lg" transform="translate(362.00 100.80) scale(1 1.04)">Numerator, all hits</text>
<rect class="c" x="545" y="97" width="43" height="2" fill="#6600cc"/>
<path d="M566.5 94.2 L570.9 102 L562.1 102 Z" fill="none" stroke="#000" stroke-width="1.2"/>
<text class="lg" transform="translate(596.00 100.80) scale(1 1.04)">Numerator, in-band hits</text>
<rect class="c" x="830" y="97" width="42" height="2" fill="#cc6633"/>
<path d="M850.5 101.6 L854.5 94.5 L846.5 94.5 Z" fill="none" stroke="#000" stroke-width="1.2"/>
<text class="lg" transform="translate(880.00 100.80) scale(1 1.04)">Numerator, reco hits</text>
</svg></body></html>
